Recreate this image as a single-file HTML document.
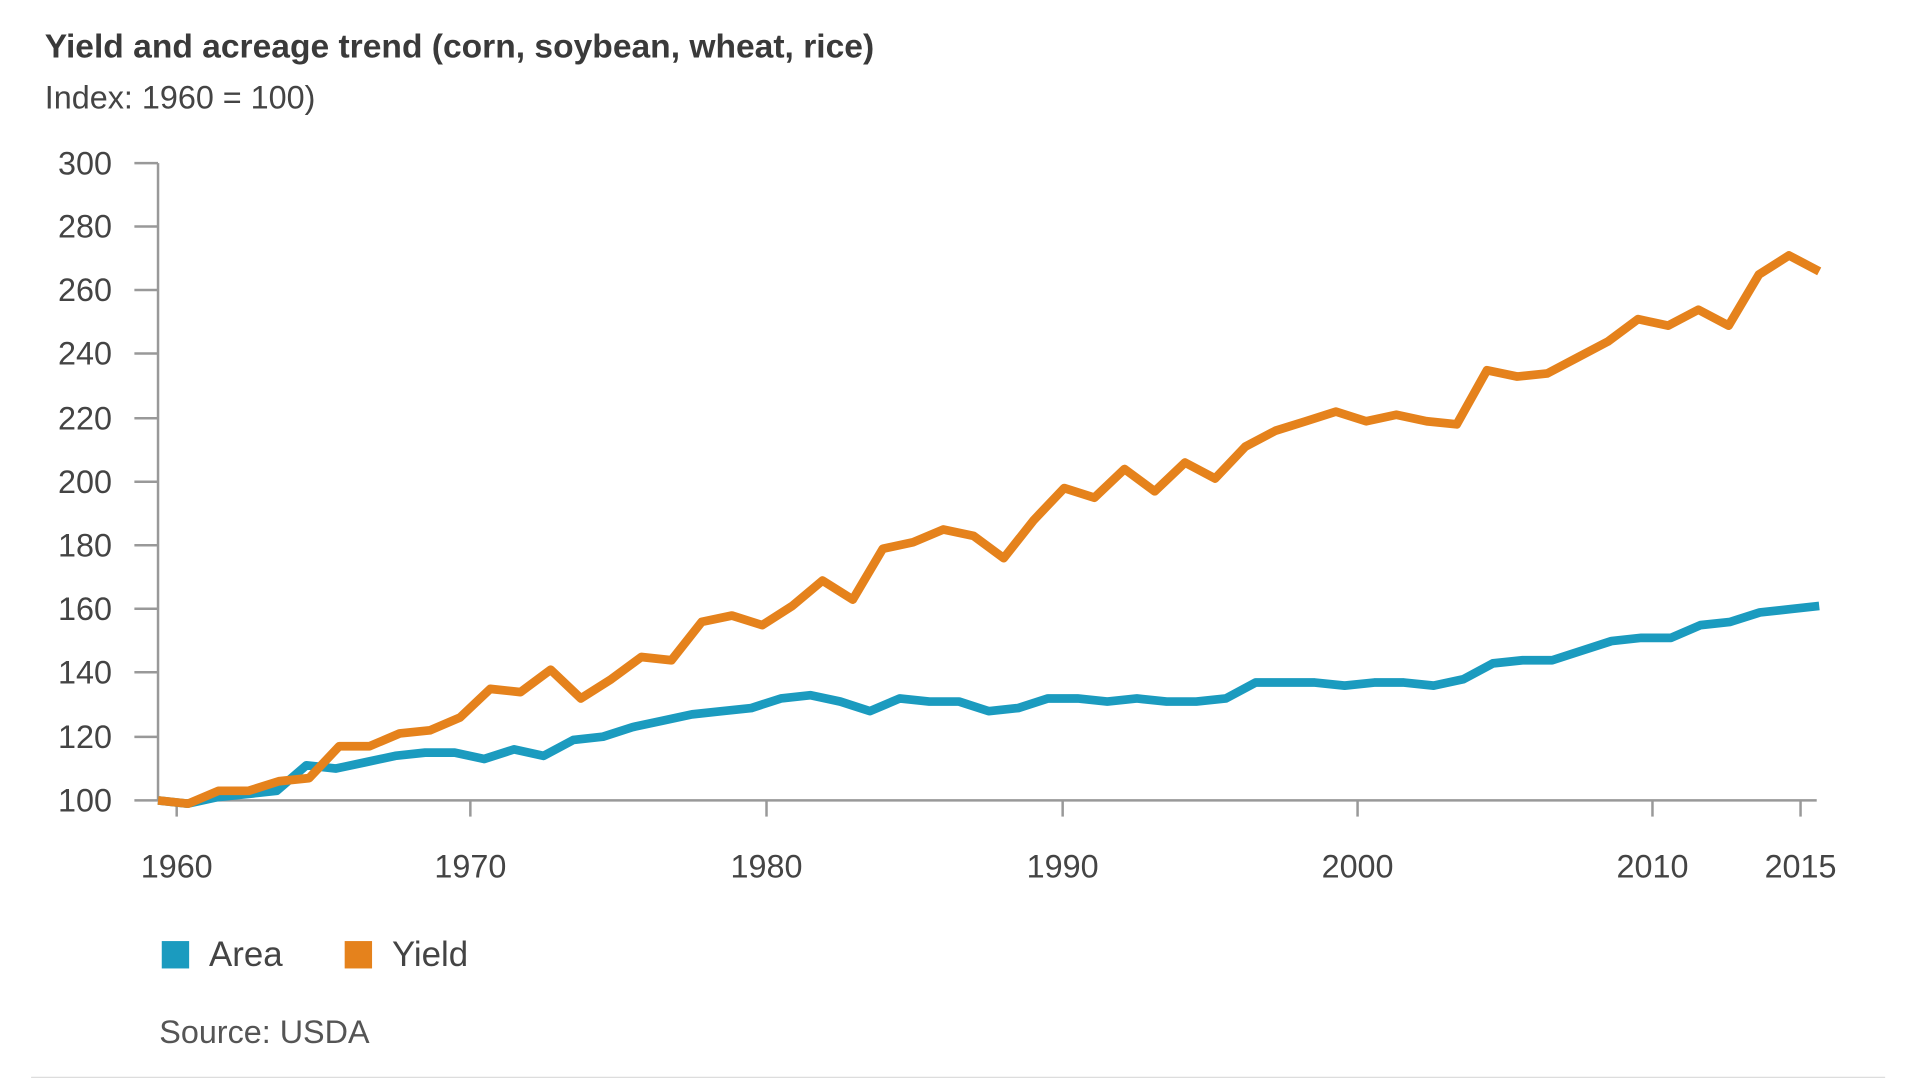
<!DOCTYPE html>
<html><head><meta charset="utf-8"><style>html,body{margin:0;padding:0;background:#fff;}svg{display:block}</style></head>
<body>
<svg width="1920" height="1078" viewBox="0 0 1543 866" preserveAspectRatio="none" xmlns="http://www.w3.org/2000/svg" font-family="Liberation Sans, Arial, sans-serif">
<rect width="1543" height="866" fill="#fff"/>
<text x="36" y="46" font-size="27" font-weight="bold" fill="#3a3a3a">Yield and acreage trend (corn, soybean, wheat, rice)</text>
<text x="36" y="87" font-size="26" fill="#444">Index: 1960 = 100)</text>
<g font-size="26" fill="#444" text-anchor="end">
<text x="90" y="140">300</text><text x="90" y="191">280</text><text x="90" y="242">260</text><text x="90" y="293">240</text><text x="90" y="345">220</text><text x="90" y="396">200</text><text x="90" y="447">180</text><text x="90" y="498">160</text><text x="90" y="549">140</text><text x="90" y="601">120</text><text x="90" y="652">100</text>
</g>
<g stroke="#999" stroke-width="2">
<line x1="127" y1="131" x2="127" y2="643"/>
<line x1="127" y1="643" x2="1460" y2="643"/>
<line x1="108" y1="131" x2="127" y2="131"/><line x1="108" y1="182" x2="127" y2="182"/><line x1="108" y1="233" x2="127" y2="233"/><line x1="108" y1="284" x2="127" y2="284"/><line x1="108" y1="336" x2="127" y2="336"/><line x1="108" y1="387" x2="127" y2="387"/><line x1="108" y1="438" x2="127" y2="438"/><line x1="108" y1="489" x2="127" y2="489"/><line x1="108" y1="540" x2="127" y2="540"/><line x1="108" y1="592" x2="127" y2="592"/><line x1="108" y1="643" x2="127" y2="643"/>
<line x1="142" y1="643" x2="142" y2="656"/><line x1="378" y1="643" x2="378" y2="656"/><line x1="616" y1="643" x2="616" y2="656"/><line x1="854" y1="643" x2="854" y2="656"/><line x1="1091" y1="643" x2="1091" y2="656"/><line x1="1328" y1="643" x2="1328" y2="656"/><line x1="1447" y1="643" x2="1447" y2="656"/>
</g>
<g font-size="26" fill="#444" text-anchor="middle">
<text x="142" y="705">1960</text><text x="378" y="705">1970</text><text x="616" y="705">1980</text><text x="854" y="705">1990</text><text x="1091" y="705">2000</text><text x="1328" y="705">2010</text><text x="1447" y="705">2015</text>
</g>
<polyline id="area" fill="none" stroke="#1b9bbf" stroke-width="7" stroke-linejoin="round"/>
<polyline id="yield" fill="none" stroke="#e5821c" stroke-width="7" stroke-linejoin="round"/>
<rect x="130" y="756" width="22" height="22" fill="#1b9bbf"/>
<text x="168" y="776" font-size="28" fill="#444">Area</text>
<rect x="277" y="756" width="22" height="22" fill="#e5821c"/>
<text x="315" y="776" font-size="28" fill="#444">Yield</text>
<text x="128" y="838" font-size="26" fill="#555">Source: USDA</text>
<line x1="25" y1="866" x2="1515" y2="866" stroke="#ddd" stroke-width="2"/>
</svg>
<script>
var A=[100,99,101,102,103,111,110,112,114,115,115,113,116,114,119,120,123,125,127,128,129,132,133,131,128,132,131,131,128,129,132,132,131,132,131,131,132,137,137,137,136,137,137,136,138,143,144,144,147,150,151,151,155,156,159,160,161];
var Y=[100,99,103,103,106,107,117,117,121,122,126,135,134,141,132,138,145,144,156,158,155,161,169,163,179,181,185,183,176,188,198,195,204,197,206,201,211,216,219,222,219,221,219,218,235,233,234,239,244,251,249,254,249,265,271,266];
function pts(d){var n=d.length,s=[];for(var i=0;i<n;i++){var x=127+i*(1462-127)/(n-1);var y=643-(d[i]-100)*512/200;s.push(x.toFixed(1)+","+y.toFixed(1));}return s.join(" ");}
document.getElementById("area").setAttribute("points",pts(A));
document.getElementById("yield").setAttribute("points",pts(Y));
</script>
</body></html>
